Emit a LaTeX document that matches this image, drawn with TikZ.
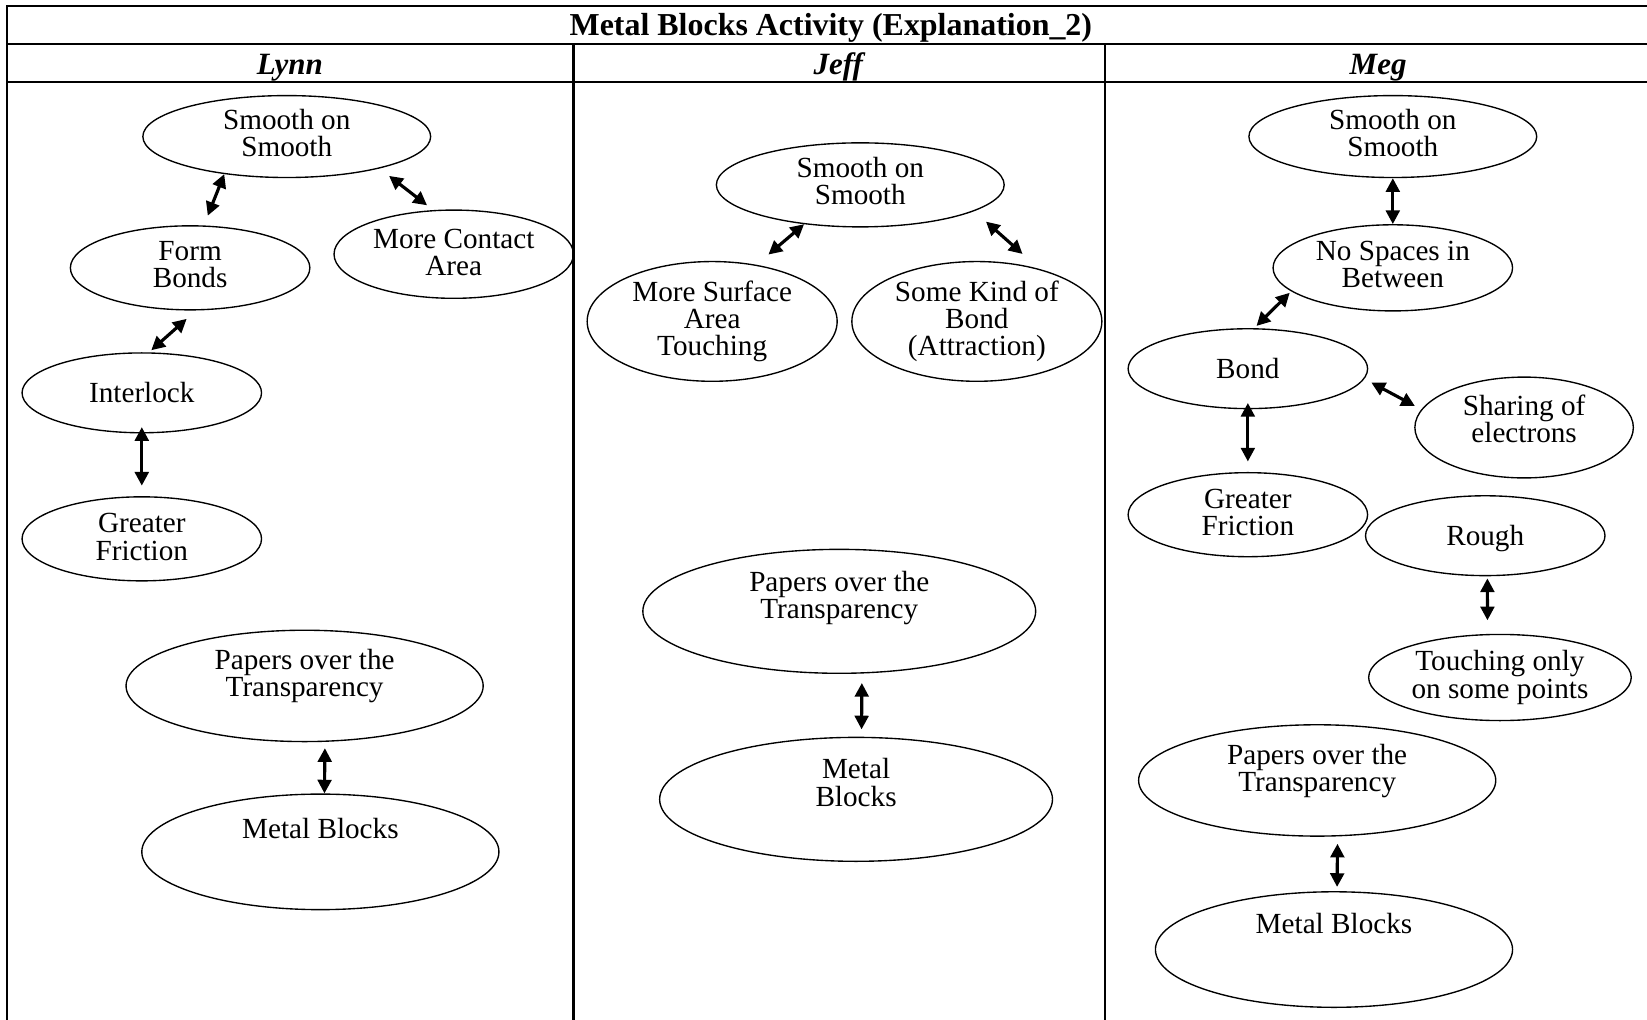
\documentclass[tikz,border=0pt]{standalone}
\usepackage{fontspec}
\setmainfont{Liberation Serif}
\usetikzlibrary{shapes.geometric,arrows.meta}

% pushes the text of a node up a little
\newcommand{\lowpad}[1][7pt]{\rule[-#1]{0pt}{0pt}}

\tikzset{
    idea/.style={ellipse, draw, line width=1.3pt, inner sep=0pt, align=center,
        font=\fontsize{27.8}{26}\selectfont},
    link/.style={{Triangle[length=13pt,width=13pt]}-{Triangle[length=13pt,width=13pt]},
        line width=3pt},
    tableline/.style={line width=2pt},
    head/.style={anchor=base, font=\bfseries\itshape\fontsize{29.5}{31}\selectfont}
}

\begin{document}
\begin{tikzpicture}[x=1pt, y=-1pt]
    \useasboundingbox (0,0) rectangle (1568,971);

    % Table
    \draw[tableline] (1568,6) -- (7,6) -- (7,971);
    \draw[tableline] (7,42) -- (1568,42);
    \draw[tableline] (7,78) -- (1568,78);
    \draw[tableline] (546,42) -- (546,971);
    \draw[tableline] (1052,42) -- (1052,971);

    \node[anchor=base, font=\bfseries\fontsize{30.4}{32}\selectfont] (title) at (791,34)
        {Metal Blocks Activity (Explanation\_2)};
    \node[head] (lynn) at (276,71) {Lynn};
    \node[head] (jeff) at (798,71) {Jeff};
    \node[head] (meg) at (1312,71) {Meg};

    % Lynn
    \node[idea, minimum width=274pt, minimum height=78pt] (ls) at (273,130) {Smooth on\\Smooth\lowpad};
    \node[idea, minimum width=228pt, minimum height=80pt] (lfb) at (181,255) {Form\\Bonds\lowpad};
    \node[idea, minimum width=228pt, minimum height=84pt] (lmc) at (432,242) {More Contact\\Area\lowpad[3pt]};
    \node[idea, minimum width=228pt, minimum height=76pt] (lil) at (135,374) {Interlock};
    \node[idea, minimum width=228pt, minimum height=80pt] (lgf) at (135,513) {Greater\\Friction\lowpad[4pt]};
    \node[idea, minimum width=340pt, minimum height=106pt] (lpt) at (290,653)
        {\parbox[c][69.6pt][t]{180pt}{\centering Papers over the\\Transparency}};
    \node[idea, minimum width=340pt, minimum height=110pt] (lmb) at (305,811)
        {\parbox[c][64.6pt][t]{180pt}{\centering Metal Blocks}};

    \draw[link, shorten >=10pt] (ls.211) -- (lfb.72);
    \draw[link, shorten <=11.5pt, shorten >=7.4pt] (ls.341) -- (lmc.115);
    \draw[link, shorten <=12pt, shorten >=3pt] (lfb.278) -- (lil.80);
    \draw[link, shorten <=-6pt, shorten >=10pt] (lil.south) -- (lgf.north);
    \draw[link, shorten <=6pt] (lpt.290) -- (lmb.86);

    % Jeff
    \node[idea, minimum width=274pt, minimum height=80pt] (js) at (819,176) {Smooth on\\Smooth\lowpad};
    \node[idea, minimum width=238pt, minimum height=114pt] (jma) at (678,306) {More Surface\\Area\\Touching};
    \node[idea, minimum width=238pt, minimum height=114pt] (jsk) at (930,306) {Some Kind of\\Bond\\(Attraction)};
    \node[idea, minimum width=374pt, minimum height=118pt] (jpt) at (799,582)
        {\parbox[c][76.6pt][t]{180pt}{\centering Papers over the\\Transparency}};
    \node[idea, minimum width=374pt, minimum height=118pt] (jmb) at (815,761)
        {\parbox[c][77.6pt][t]{180pt}{\centering Metal\\Blocks}};

    \draw[link, shorten >=15pt] (js.215) -- (jma.52);
    \draw[link, shorten <=15pt, shorten >=21.5pt] (js.347) -- (jsk.40);
    \draw[link, shorten <=9pt, shorten >=7pt] (jpt.290) -- (jmb.85);

    % Meg
    \node[idea, minimum width=274pt, minimum height=78pt] (ms) at (1326,130) {Smooth on\\Smooth\lowpad};
    \node[idea, minimum width=228pt, minimum height=82pt] (mns) at (1326,255) {No Spaces in\\Between\lowpad};
    \node[idea, minimum width=228pt, minimum height=76pt] (mb) at (1188,351) {Bond};
    \node[idea, minimum width=208pt, minimum height=96pt] (mse) at (1451,407)
        {\parbox[c][62.6pt][t]{140pt}{\centering Sharing of\\electrons}};
    \node[idea, minimum width=228pt, minimum height=80pt] (mgf) at (1188,490) {Greater\\Friction\lowpad[4pt]};
    \node[idea, minimum width=228pt, minimum height=76pt, text height=25pt, text depth=6pt] (mr) at (1414,510) {Rough};
    \node[idea, minimum width=250pt, minimum height=82pt] (mto) at (1428,645) {Touching only\\on some points};
    \node[idea, minimum width=340pt, minimum height=106pt] (mpt) at (1254,743)
        {\parbox[c][68.6pt][t]{180pt}{\centering Papers over the\\Transparency}};
    \node[idea, minimum width=340pt, minimum height=110pt] (mmb) at (1270,904)
        {\parbox[c][68.6pt][t]{180pt}{\centering Metal Blocks}};

    \draw[link] (ms.south) -- (mns.north);
    \draw[link, shorten <=2pt, shorten >=3pt] (mns.193) -- (mb.81);
    \draw[link, shorten <=7.5pt, shorten >=7pt] (mb.355) -- (mse.170);
    \draw[link, shorten <=-6pt, shorten >=10pt] (mb.south) -- (mgf.north);
    \draw[link, shorten <=2pt, shorten >=13pt] (mr.273) -- (mto.106);
    \draw[link, shorten <=7pt, shorten >=4pt] (mpt.290) -- (mmb.87);
\end{tikzpicture}
\end{document}
